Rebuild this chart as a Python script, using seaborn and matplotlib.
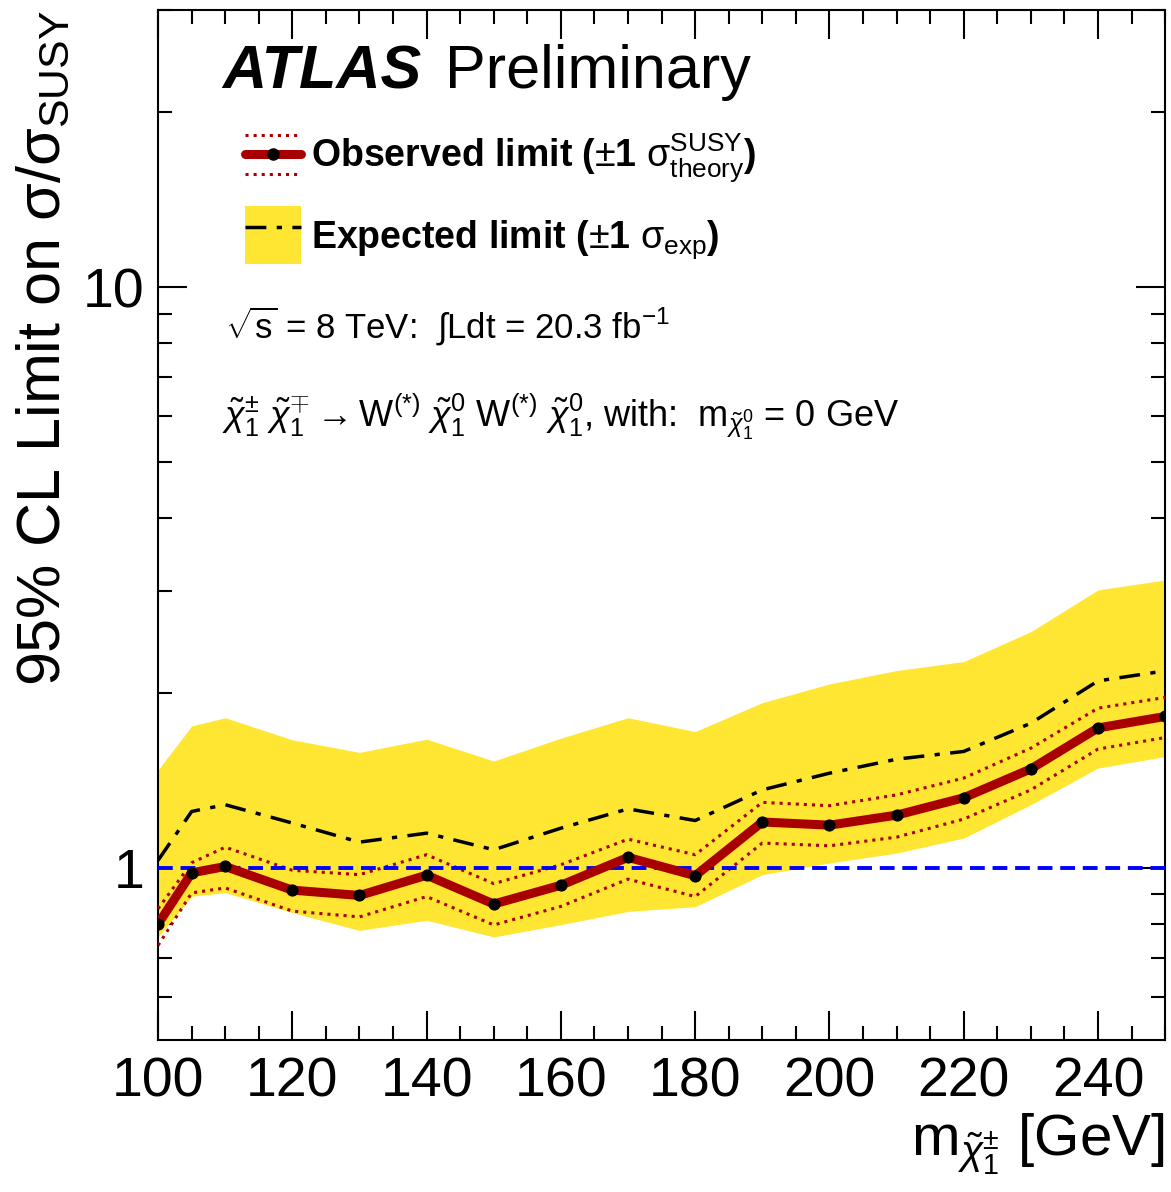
import numpy as np
import pandas as pd
import matplotlib
matplotlib.use("Agg")
import matplotlib.pyplot as plt
import seaborn as sns
from matplotlib.lines import Line2D
from matplotlib.patches import Patch
from matplotlib.legend_handler import HandlerBase, HandlerTuple
from matplotlib.ticker import MultipleLocator, LogLocator, NullFormatter, FixedLocator, FixedFormatter

# chargino mass points [GeV]
mass = [100, 105, 110, 120, 130, 140, 150, 160, 170, 180, 190, 200, 210, 220, 230, 240, 250]
# observed limit and +-1 sigma theory
obs = [0.80, 0.98, 1.005, 0.915, 0.896, 0.971, 0.866, 0.933, 1.042, 0.969, 1.199, 1.184, 1.232, 1.32, 1.48, 1.741, 1.822]
obs_up = [0.85, 1.02, 1.085, 0.99, 0.973, 1.053, 0.939, 1.012, 1.12, 1.053, 1.296, 1.279, 1.335, 1.427, 1.607, 1.883, 1.965]
obs_dn = [0.735, 0.905, 0.923, 0.842, 0.823, 0.892, 0.797, 0.858, 0.956, 0.892, 1.103, 1.091, 1.129, 1.213, 1.362, 1.601, 1.676]
# expected limit and +-1 sigma exp band
exp = [1.03, 1.25, 1.284, 1.194, 1.107, 1.147, 1.074, 1.17, 1.263, 1.206, 1.362, 1.455, 1.538, 1.586, 1.774, 2.098, 2.183]
exp_up = [1.474, 1.755, 1.813, 1.661, 1.58, 1.665, 1.527, 1.672, 1.813, 1.716, 1.925, 2.073, 2.186, 2.265, 2.551, 3.01, 3.131]
exp_dn = [0.76, 0.893, 0.906, 0.837, 0.78, 0.812, 0.76, 0.798, 0.841, 0.857, 0.973, 1.019, 1.06, 1.125, 1.284, 1.485, 1.554]
ref_level = 1.0

df = pd.DataFrame({'mass': mass, 'obs': obs, 'obs_up': obs_up, 'obs_dn': obs_dn,
                   'exp': exp, 'exp_up': exp_up, 'exp_dn': exp_dn})

sns.set_style("ticks")
plt.rcParams['font.family'] = ['Liberation Sans', 'DejaVu Sans']
plt.rcParams['mathtext.fontset'] = 'custom'
plt.rcParams['mathtext.rm'] = 'Liberation Sans'
plt.rcParams['mathtext.it'] = 'Liberation Sans:italic'
plt.rcParams['mathtext.bf'] = 'Liberation Sans:bold'
for k in ['text.color', 'axes.labelcolor', 'xtick.color', 'ytick.color', 'axes.edgecolor']:
    plt.rcParams[k] = 'black'

red = '#a80000'
yellow = '#ffe633'
dashdot = (0, (6, 3, 1.5, 3))

fig = plt.figure(figsize=(11.71, 11.92), dpi=100)
ax = fig.add_axes([0.135, 0.1275, 0.86, 0.864])

ax.fill_between(df['mass'], df['exp_dn'], df['exp_up'], color=yellow, lw=0, zorder=1)
sns.lineplot(data=df, x='mass', y='exp', ax=ax, color='black', lw=2.5, linestyle=dashdot, zorder=3)
sns.lineplot(data=df, x='mass', y='obs_up', ax=ax, color=red, lw=2.2, linestyle=':', zorder=3)
sns.lineplot(data=df, x='mass', y='obs_dn', ax=ax, color=red, lw=2.2, linestyle=':', zorder=3)
ax.axhline(ref_level, color='#0000ff', lw=2.8, linestyle=(0, (3.8, 2)), zorder=4)
sns.lineplot(data=df, x='mass', y='obs', ax=ax, color=red, lw=6.5, marker='o', markersize=8,
             markerfacecolor='black', markeredgecolor='black', zorder=5)

ax.set_yscale('log')
ax.set_xlim(100, 250)
ax.set_ylim(0.505, 30)

ax.xaxis.set_major_locator(MultipleLocator(20))
ax.xaxis.set_minor_locator(MultipleLocator(5))
ax.yaxis.set_major_locator(FixedLocator([1, 10]))
ax.yaxis.set_major_formatter(FixedFormatter(['1', '10']))
ax.yaxis.set_minor_locator(LogLocator(base=10, subs=np.arange(2, 10)))
ax.yaxis.set_minor_formatter(NullFormatter())

ax.tick_params(which='both', direction='in', top=True, right=True, width=1.5, colors='black')
ax.tick_params(which='major', length=21)
ax.tick_params(which='minor', length=10)
ax.tick_params(axis='x', which='major', labelsize=40, pad=12)
ax.tick_params(axis='y', which='major', labelsize=40, pad=10)
for s in ax.spines.values():
    s.set_linewidth(1.5)
    s.set_color('black')

ax.set_xlabel(r'$\mathrm{m}_{\tilde{\chi}^{\pm}_{1}}$ [GeV]', fontsize=42, loc='right', labelpad=2)
ax.set_ylabel(r'95% CL Limit on $\mathrm{\sigma}/\mathrm{\sigma}_{\mathrm{SUSY}}$', fontsize=44, loc='top')
ax.yaxis.set_label_coords(-0.085, 1.0)

# ATLAS label
ax.text(0.0636, 0.924, 'ATLAS', transform=ax.transAxes, fontsize=44, fontweight='bold',
        fontstyle='italic', va='baseline')
ax.text(0.285, 0.924, 'Preliminary', transform=ax.transAxes, fontsize=44, va='baseline')

ax.text(0.0665, 0.6825, r'$\sqrt{\mathrm{s}}$ = 8 TeV:  $\int$Ldt = 20.3 fb$^{\mathrm{-1}}$',
        transform=ax.transAxes, fontsize=25, va='baseline')
ax.text(0.0636, 0.595,
        r'$\tilde{\chi}^{\pm}_{1}\ \tilde{\chi}^{\mp}_{1} \rightarrow \mathrm{W}^{(*)}\ \tilde{\chi}^{0}_{1}\ '
        r'\mathrm{W}^{(*)}\ \tilde{\chi}^{0}_{1}$, with:  $\mathrm{m}_{\tilde{\chi}^{0}_{1}}$ = 0 GeV',
        transform=ax.transAxes, fontsize=26, va='baseline')


class ObsHandler(HandlerBase):
    def create_artists(self, legend, orig_handle, xdescent, ydescent, width, height, fontsize, trans):
        x0, x1 = -xdescent, -xdescent + width
        yc = -ydescent + height / 2
        off = height * 0.33
        arts = []
        for dy in (off, -off):
            arts.append(Line2D([x0, x1], [yc + dy, yc + dy], color=red, lw=2.2, ls=':'))
        arts.append(Line2D([x0, x1], [yc, yc], color=red, lw=6.5))
        arts.append(Line2D([(x0 + x1) / 2], [yc], marker='o', color='black', ms=8, ls='none'))
        for a in arts:
            a.set_transform(trans)
        return arts


obs_handle = Line2D([], [], color=red)
exp_handle = (Patch(facecolor=yellow, edgecolor='none'),
              Line2D([], [], color='black', lw=2.5, linestyle=dashdot))
leg = ax.legend([obs_handle, exp_handle],
                [r'Observed limit ($\pm$1 $\mathrm{\sigma}^{\mathrm{SUSY}}_{\mathrm{theory}}$)',
                 r'Expected limit ($\pm$1 $\mathrm{\sigma}_{\mathrm{exp}}$)'],
                handler_map={obs_handle: ObsHandler(), tuple: HandlerTuple(ndivide=1)},
                loc='upper left', bbox_to_anchor=(0.0864, 0.888), frameon=False,
                borderpad=0, borderaxespad=0, handlelength=1.5, handleheight=2.0,
                labelspacing=0.6, handletextpad=0.25, prop={'size': 27, 'weight': 'bold'})

fig.savefig('out.png', dpi=100)
